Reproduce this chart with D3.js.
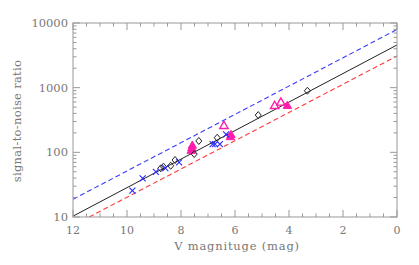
<html>
<head>
<meta charset="utf-8">
<script src="https://d3js.org/d3.v7.min.js"></script>
<style>
  body { margin: 0; background: #fff; }
  text { font-family: "DejaVu Serif", "Liberation Serif", serif; fill: #777; }
</style>
</head>
<body>
<script>
// model lines: [V, S/N] at the two ends
var fitLine = [[12, 10.3], [0, 4570]]
var upperLine = [[12, 18.8], [0, 7940]]
var lowerLine = [[11.4, 10], [0, 3090]]

// open diamonds
var diamondV   = [8.75, 8.65, 8.38, 8.22, 7.51, 7.34, 6.66, 5.14, 3.32]
var diamondSNR = [56.6, 60, 62, 76, 94, 150, 168, 377, 896]

// blue crosses
var crossV   = [9.80, 9.42, 8.93, 8.58, 8.07, 6.83, 6.74, 6.56, 6.33]
var crossSNR = [25.5, 39.6, 50, 57, 70, 134, 134, 134, 190]

// magenta filled triangles
var filledV   = [7.62, 7.60, 7.58, 6.17, 6.15, 4.06]
var filledSNR = [105, 115, 126, 171, 185, 520]

// magenta open triangles
var openV   = [6.41, 4.53, 4.30]
var openSNR = [255, 520, 585]

var xTicks = [12, 10, 8, 6, 4, 2, 0]
var yTicks = [10, 100, 1000, 10000]

var width = 419, height = 265
var m = {left: 73, right: 22, top: 23, bottom: 48}

var svg = d3.select("body").append("svg")
  .attr("width", width)
  .attr("height", height)

var x = d3.scaleLinear().domain([12, 0]).range([m.left, width - m.right])
var y = d3.scaleLog().domain([10, 10000]).range([height - m.bottom, m.top])

var axisColor = "#999"

// clip for the lines
svg.append("clipPath").attr("id", "clip")
  .append("rect")
  .attr("x", m.left).attr("y", m.top)
  .attr("width", x(0) - x(12)).attr("height", y(10) - y(10000))

var line = d3.line().x(d => x(d[0])).y(d => y(d[1]))

var g = svg.append("g").attr("clip-path", "url(#clip)")
g.append("path").datum(upperLine).attr("d", line)
  .attr("fill", "none").attr("stroke", "#3a3aff").attr("stroke-width", 1.1).attr("stroke-dasharray", "5,3")
g.append("path").datum(lowerLine).attr("d", line)
  .attr("fill", "none").attr("stroke", "#ff3a3a").attr("stroke-width", 1.1).attr("stroke-dasharray", "5,3")
g.append("path").datum(fitLine).attr("d", line)
  .attr("fill", "none").attr("stroke", "#222").attr("stroke-width", 1)

// frame
svg.append("rect")
  .attr("x", m.left).attr("y", m.top)
  .attr("width", x(0) - x(12)).attr("height", y(10) - y(10000))
  .attr("fill", "none").attr("stroke", axisColor).attr("stroke-width", 1)

// ticks, drawn inward on all four sides
var xMinor = d3.range(0, 12.01, 0.5)
var yMinor = []
yTicks.slice(0, 3).forEach(function(t) { for (var k = 2; k < 10; k++) yMinor.push(t * k) })

var ticks = svg.append("g").attr("stroke", axisColor).attr("stroke-width", 1)
xMinor.forEach(function(v) {
  var len = (v % 2 === 0) ? 7 : 3.5
  ticks.append("line").attr("x1", x(v)).attr("x2", x(v)).attr("y1", y(10)).attr("y2", y(10) - len)
  ticks.append("line").attr("x1", x(v)).attr("x2", x(v)).attr("y1", y(10000)).attr("y2", y(10000) + len)
})
yTicks.forEach(function(v) {
  ticks.append("line").attr("x1", x(12)).attr("x2", x(12) + 7).attr("y1", y(v)).attr("y2", y(v))
  ticks.append("line").attr("x1", x(0)).attr("x2", x(0) - 7).attr("y1", y(v)).attr("y2", y(v))
})
yMinor.forEach(function(v) {
  ticks.append("line").attr("x1", x(12)).attr("x2", x(12) + 3.5).attr("y1", y(v)).attr("y2", y(v))
  ticks.append("line").attr("x1", x(0)).attr("x2", x(0) - 3.5).attr("y1", y(v)).attr("y2", y(v))
})

// tick labels
svg.append("g").selectAll("text").data(xTicks).enter().append("text")
  .attr("x", d => x(d)).attr("y", y(10) + 17)
  .attr("text-anchor", "middle").attr("font-size", 11)
  .text(d => d)
svg.append("g").selectAll("text").data(yTicks).enter().append("text")
  .attr("x", x(12) - 5).attr("y", d => y(d) + 4)
  .attr("text-anchor", "end").attr("font-size", 11.5)
  .text(d => d)

// axis titles
svg.append("text")
  .attr("x", (x(12) + x(0)) / 2 + 2).attr("y", 250)
  .attr("text-anchor", "middle").attr("font-size", 11.5).attr("letter-spacing", 0.8)
  .text("V magnituge (mag)")
svg.append("text")
  .attr("transform", "translate(21," + ((y(10) + y(10000)) / 2 + 1) + ") rotate(-90)")
  .attr("text-anchor", "middle").attr("font-size", 11.5).attr("letter-spacing", 0.3)
  .text("signal-to-noise ratio")

// markers
var pts = svg.append("g")
var tri = d3.symbol().type(d3.symbolTriangle).size(30)

pts.selectAll(".tf").data(d3.zip(filledV, filledSNR)).enter().append("path")
  .attr("transform", d => "translate(" + x(d[0]) + "," + y(d[1]) + ")")
  .attr("d", tri).attr("fill", "#ff1cac").attr("stroke", "#ff1cac").attr("stroke-width", 1)

pts.selectAll(".to").data(d3.zip(openV, openSNR)).enter().append("path")
  .attr("transform", d => "translate(" + x(d[0]) + "," + y(d[1]) + ")")
  .attr("d", tri).attr("fill", "none").attr("stroke", "#ff1cac").attr("stroke-width", 1.4)

pts.selectAll(".dm").data(d3.zip(diamondV, diamondSNR)).enter().append("path")
  .attr("transform", d => "translate(" + x(d[0]) + "," + y(d[1]) + ")")
  .attr("d", "M0,-3.5L3,0L0,3.5L-3,0Z")
  .attr("fill", "none").attr("stroke", "#222").attr("stroke-width", 1)

pts.selectAll(".cx").data(d3.zip(crossV, crossSNR)).enter().append("path")
  .attr("transform", d => "translate(" + x(d[0]) + "," + y(d[1]) + ")")
  .attr("d", "M-3,-3L3,3M-3,3L3,-3")
  .attr("fill", "none").attr("stroke", "#2a2aff").attr("stroke-width", 1.1)
</script>
</body>
</html>
